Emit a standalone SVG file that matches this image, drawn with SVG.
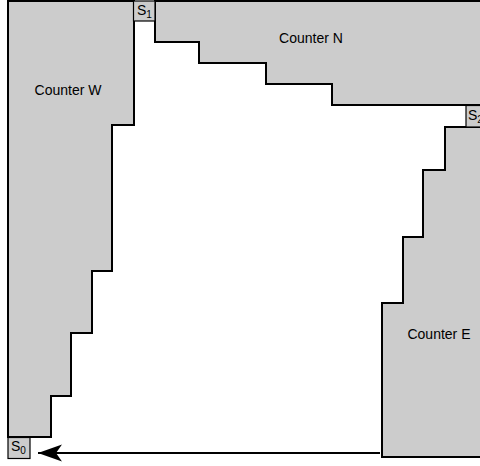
<svg xmlns="http://www.w3.org/2000/svg" width="480" height="466" viewBox="0 0 480 466">
<style>
.counter{fill:#cccccc;stroke:#000;stroke-width:2;stroke-linejoin:miter}
.slot{fill:#cccccc;stroke:#000;stroke-width:1.2}
.lbl{font-family:"Liberation Sans",Arial,sans-serif;font-size:14px;fill:#000;text-anchor:middle}
.s{font-family:"Liberation Sans",Arial,sans-serif;font-size:14px;fill:#000}
.sub{font-size:10px}
.conn{stroke:#000;stroke-width:2;fill:none}
</style>
<defs>
<marker id="ah" markerUnits="userSpaceOnUse" markerWidth="26" markerHeight="20" viewBox="0 0 26 20" refX="25" refY="10" orient="auto">
<path d="M25,10 L1,1.5 L7,10 L1,18.5 Z" fill="#000"/>
</marker>
</defs>
<rect width="480" height="466" fill="#fff"/>
<g id="counter-w">
<polygon class="counter" points="8,1 134,1 134,125 112,125 112,271 92,271 92,333 71,333 71,396 51,396 51,437 8,437"/>
<text class="lbl" x="68" y="95">Counter W</text>
</g>
<g id="counter-n">
<polygon class="counter" points="155,1 484,1 484,105 332,105 332,84 266,84 266,63 199,63 199,42 155,42"/>
<text class="lbl" x="311" y="43">Counter N</text>
</g>
<g id="counter-e">
<polygon class="counter" points="382,303 403,303 403,237 423,237 423,170 445,170 445,127 484,127 484,457 382,457"/>
<text class="lbl" x="439" y="339">Counter E</text>
</g>
<g id="s1">
<rect class="slot" x="133.5" y="1" width="21.5" height="20"/>
<text class="s" x="137" y="15">S<tspan class="sub" dy="3">1</tspan></text>
</g>
<g id="s2">
<rect class="slot" x="466" y="105.5" width="20" height="21.5"/>
<text class="s" x="468" y="120">S<tspan class="sub" dy="3">2</tspan></text>
</g>
<g id="s0">
<rect class="slot" x="8" y="437.5" width="22" height="21"/>
<text class="s" x="11" y="451">S<tspan class="sub" dy="3">0</tspan></text>
</g>
<g id="connectors">
<line class="conn" x1="380" y1="453" x2="38" y2="453" marker-end="url(#ah)"/>
</g>
</svg>
